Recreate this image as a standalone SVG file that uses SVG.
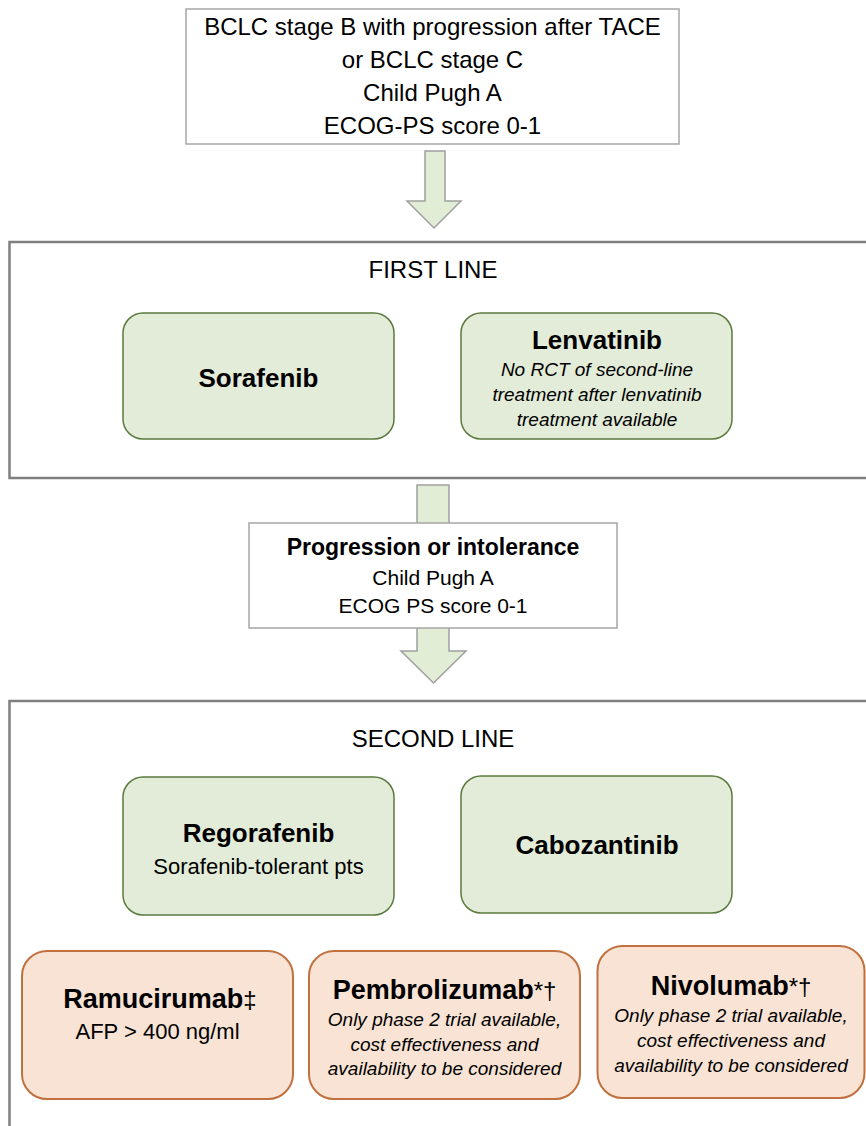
<svg xmlns="http://www.w3.org/2000/svg" width="866" height="1126" viewBox="0 0 866 1126">
<style>
text{font-family:"Liberation Sans",Arial,sans-serif;fill:#000;text-anchor:middle}
.plain{fill:#fff;stroke:#a6a6a6;stroke-width:1.5}
.cont{fill:#fff;stroke:#7f7f7f;stroke-width:2.5}
.green{fill:#e3ecd8;stroke:#5b7a3e;stroke-width:1.5}
.peach{fill:#f8e3d4;stroke:#c0713f;stroke-width:2}
.arrow{fill:#e2edd6;stroke:#a0a0a0;stroke-width:1.5}
.t24{font-size:24px}
.t21{font-size:21px}
.t22{font-size:22px}
.b26{font-size:26px;font-weight:bold}
.b27{font-size:27px;font-weight:bold}
.b23{font-size:23px;font-weight:bold}
.i19{font-size:19px;font-style:italic}
.sym{font-weight:normal;font-size:24px}
</style>
<rect width="866" height="1126" fill="#fff"/>
<g id="first-line-container">
<rect class="cont" x="9.5" y="242" width="880" height="236"/>
<text class="t24" x="433" y="278">FIRST LINE</text>
</g>
<g id="second-line-container">
<rect class="cont" x="9.5" y="701" width="880" height="460"/>
<text class="t24" x="433" y="747">SECOND LINE</text>
</g>
<g id="connectors">
<polygon class="arrow" points="425,151 445,151 445,201 461,201 434,228 407,201 425,201"/>
<polygon class="arrow" points="417,485 449,485 449,651 466,651 433.5,683 401,651 417,651"/>
</g>
<g id="eligibility">
<rect class="plain" x="186" y="9" width="493" height="135"/>
<text class="t24" x="432.5" y="35">BCLC stage B with progression after TACE</text>
<text class="t24" x="432.5" y="68">or BCLC stage C</text>
<text class="t24" x="432.5" y="101">Child Pugh A</text>
<text class="t24" x="432.5" y="134">ECOG-PS score 0-1</text>
</g>
<g id="sorafenib">
<rect class="green" x="123" y="313" width="271" height="126" rx="20"/>
<text class="b26" x="258.5" y="387">Sorafenib</text>
</g>
<g id="lenvatinib">
<rect class="green" x="461" y="313" width="271" height="126" rx="20"/>
<text class="b26" x="597" y="349">Lenvatinib</text>
<text class="i19" x="597" y="376">No RCT of second-line</text>
<text class="i19" x="597" y="401">treatment after lenvatinib</text>
<text class="i19" x="597" y="426">treatment available</text>
</g>
<g id="progression">
<rect class="plain" x="249" y="523" width="368" height="105"/>
<text class="b23" x="433" y="555">Progression or intolerance</text>
<text class="t21" x="433" y="585">Child Pugh A</text>
<text class="t21" x="433" y="613">ECOG PS score 0-1</text>
</g>
<g id="regorafenib">
<rect class="green" x="123" y="777" width="271" height="138" rx="20"/>
<text class="b26" x="258.5" y="842">Regorafenib</text>
<text class="t22" x="258.5" y="874">Sorafenib-tolerant pts</text>
</g>
<g id="cabozantinib">
<rect class="green" x="461" y="776" width="271" height="137" rx="20"/>
<text class="b26" x="597" y="854">Cabozantinib</text>
</g>
<g id="ramucirumab">
<rect class="peach" x="22" y="951" width="271" height="148" rx="25"/>
<text class="b27" x="160" y="1008">Ramucirumab<tspan class="sym" font-weight="bold">‡</tspan></text>
<text class="t22" x="157.5" y="1039">AFP &gt; 400 ng/ml</text>
</g>
<g id="pembrolizumab">
<rect class="peach" x="309" y="951" width="271" height="148" rx="25"/>
<text class="b27" x="444.5" y="999">Pembrolizumab<tspan class="sym">*†</tspan></text>
<text class="i19" x="444.5" y="1026">Only phase 2 trial available,</text>
<text class="i19" x="444.5" y="1050.5">cost effectiveness and</text>
<text class="i19" x="444.5" y="1075">availability to be considered</text>
</g>
<g id="nivolumab">
<rect class="peach" x="597.5" y="946" width="267" height="152" rx="25"/>
<text class="b27" x="731" y="995">Nivolumab<tspan class="sym">*†</tspan></text>
<text class="i19" x="731" y="1022">Only phase 2 trial available,</text>
<text class="i19" x="731" y="1047">cost effectiveness and</text>
<text class="i19" x="731" y="1072">availability to be considered</text>
</g>
</svg>
